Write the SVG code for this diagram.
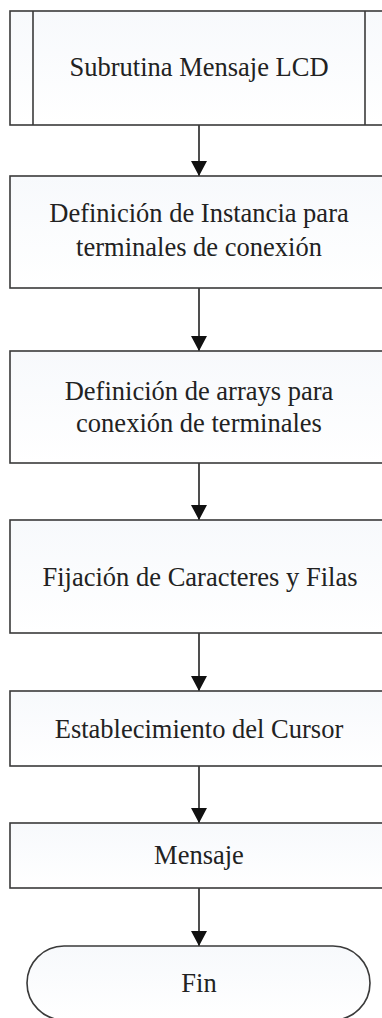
<svg xmlns="http://www.w3.org/2000/svg" width="382" height="1018" viewBox="0 0 382 1018">
<style>
  .box { fill: url(#g); stroke: #3a3a3a; stroke-width: 1.6; }
  .inner { stroke: #3a3a3a; stroke-width: 1.6; fill: none; }
  .lbl { font-family: "Liberation Serif", "Times New Roman", serif; font-size: 26.5px; fill: #222; text-anchor: middle; }
  .conn { stroke: #222; stroke-width: 1.6; fill: none; marker-end: url(#arr); }
</style>
<defs>
  <linearGradient id="g" x1="0" y1="0" x2="0" y2="1">
    <stop offset="0" stop-color="#f7f9fc"/>
    <stop offset="1" stop-color="#ffffff"/>
  </linearGradient>
  <marker id="arr" markerUnits="userSpaceOnUse" markerWidth="16" markerHeight="16" refX="15" refY="8" orient="auto">
    <path d="M0,0 L15,8 L0,16 Z" fill="#111"/>
  </marker>
</defs>
<rect width="382" height="1018" fill="#ffffff"/>

<g id="connectors">
  <line class="conn" x1="199" y1="125" x2="199" y2="176"/>
  <line class="conn" x1="199" y1="288" x2="199" y2="351"/>
  <line class="conn" x1="199" y1="463" x2="199" y2="520"/>
  <line class="conn" x1="199" y1="633" x2="199" y2="691"/>
  <line class="conn" x1="199" y1="766" x2="199" y2="823"/>
  <line class="conn" x1="199" y1="888" x2="199" y2="946"/>
</g>

<g id="n1">
  <rect class="box" x="10" y="11" width="378" height="114"/>
  <line class="inner" x1="33" y1="11" x2="33" y2="125"/>
  <line class="inner" x1="365" y1="11" x2="365" y2="125"/>
  <text class="lbl" x="199" y="76">Subrutina Mensaje LCD</text>
</g>

<g id="n2">
  <rect class="box" x="10" y="176" width="378" height="112"/>
  <text class="lbl" x="199" y="222">Definición de Instancia para</text>
  <text class="lbl" x="199" y="256">terminales de conexión</text>
</g>

<g id="n3">
  <rect class="box" x="10" y="351" width="378" height="112"/>
  <text class="lbl" x="199" y="400">Definición de arrays para</text>
  <text class="lbl" x="199" y="432">conexión de terminales</text>
</g>

<g id="n4">
  <rect class="box" x="10" y="520" width="378" height="113"/>
  <text class="lbl" x="200" y="586">Fijación de Caracteres y Filas</text>
</g>

<g id="n5">
  <rect class="box" x="10" y="691" width="378" height="75"/>
  <text class="lbl" x="199" y="738">Establecimiento del Cursor</text>
</g>

<g id="n6">
  <rect class="box" x="10" y="823" width="378" height="65"/>
  <text class="lbl" x="199" y="864">Mensaje</text>
</g>

<g id="n7">
  <rect class="box" x="27" y="946" width="343" height="74" rx="37" ry="37"/>
  <text class="lbl" x="199" y="992">Fin</text>
</g>
</svg>
